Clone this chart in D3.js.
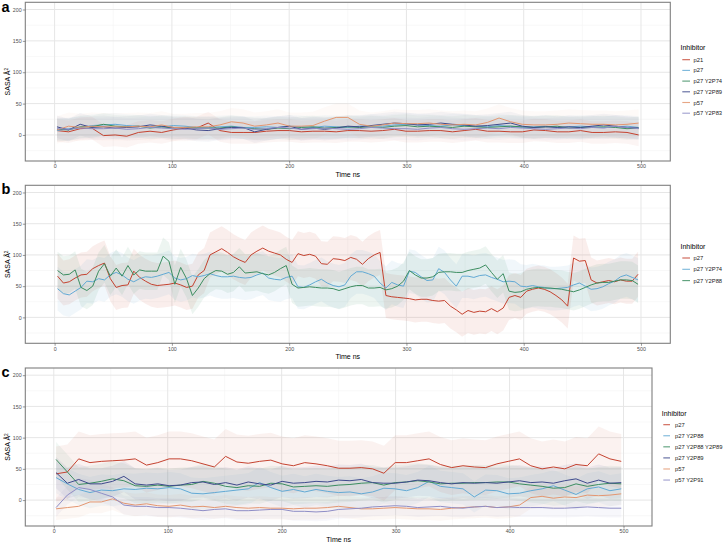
<!DOCTYPE html>
<html><head><meta charset="utf-8">
<script src="https://cdn.jsdelivr.net/npm/d3@7"></script>
<style>body{margin:0;background:#fff}svg{display:block}text{font-family:"Liberation Sans",Arial,Helvetica,sans-serif}</style>
</head><body><svg id="chart" width="726" height="545"></svg>
<script>
// ---------- data ----------
const timeB = d3.range(100).map(k => 2.5 + 5 * k);        // 5 ns sampling (panel b)
const timeAC = d3.range(51).map(k => 2 + k * 9.92);        // ~10 ns sampling (panels a, c)

const xTicks = [0, 100, 200, 300, 400, 500];
const xMinor = [50, 150, 250, 350, 450];
const yTicks = [0, 50, 100, 150, 200];
const yMinor = [-25, 25, 75, 125, 175];

// Panel a
const aNames = ["p21", "p27", "p27 Y2P74", "p27 Y2P89", "p57", "p57 Y2P83"];
const aP21 = [7,5,10,11,-1,0,-2,4,6,4, 8,11,11,19,7,4,4,4,6,7, 7,5,6,6,5,7,7,6,7,9, 6,6,7,7,5,7,9,6,6,5, 5,8,7,5,5,7,4,4,5,4, 0];
const aP27 = [7,10,12,15,16,17,15,14,13,13, 15,14,12,12,13,14,12,12,13,12, 14,13,12,14,13,12,14,15,14,16, 17,16,15,14,16,15,14,13,15,14, 12,13,14,12,13,14,13,12,13,14, 12];
const aP27Y2P74 = [9,8,13,13,17,14,13,14,11,13, 11,12,11,11,11,13,11,10,9,11, 10,12,13,11,12,13,12,13,12,14, 15,13,14,13,12,14,13,12,13,14, 13,12,13,14,11,12,12,13,12,10, 11];
const aP27Y2P89 = [13,8,17,12,13,11,12,13,16,14, 12,11,8,7,10,12,12,5,9,12, 14,9,11,9,11,14,13,15,17,19, 18,16,17,19,17,16,14,15,17,19, 14,12,13,12,13,12,14,16,14,12, 11];
const aP57 = [8,14,12,14,13,13,13,14,13,16, 12,12,13,13,16,21,19,14,16,19, 14,14,15,22,28,28,17,14,16,19, 18,18,19,17,16,17,16,20,27,21, 17,16,16,17,19,18,17,17,16,17, 19];
const aP57Y2P83 = [10,9,11,10,10,11,9,10,12,11, 10,9,10,11,9,10,11,9,10,12, 11,9,10,11,10,9,10,12,11,10, 10,9,11,12,10,9,10,11,10,12, 11,10,9,10,11,10,12,11,14,12, 10];
const aRawSpread = [18, 18, 18, 18, 22, 18];

// Panel b
const bNames = ["p27", "p27 Y2P74", "p27 Y2P88"];
const bP27 = [66,55,57,63,68,69,78,83,87,62, 48,51,52,74,64,58,53,51,52,53, 55,52,48,50,68,75,100,105,110,104, 97,92,88,100,106,111,106,103,100,93, 88,102,99,101,98,86,85,94,93,91, 96,93,85,94,100,104,35,33,32,31, 30,28,29,29,27,26,27,18,12,5, 11,8,10,9,14,9,15,32,35,32, 42,45,47,45,41,35,28,18,95,90, 91,60,55,57,59,57,60,58,58,69];
const bP27Y2P74 = [46,38,36,42,48,58,57,62,60,68, 72,68,61,57,62,65,64,66,69,72, 63,60,62,67,65,67,70,67,65,65, 66,64,63,64,68,71,63,61,60,64, 66,49,48,52,57,61,55,51,49,52, 66,73,73,70,66,55,47,56,52,50, 74,72,65,59,60,78,72,60,50,66, 66,64,67,68,64,61,57,58,57,50, 49,51,49,48,46,46,47,48,52,55, 50,45,46,49,54,58,65,68,64,60];
const bP27Y2P88 = [75,68,69,76,48,43,50,74,86,66, 79,66,83,68,76,74,74,74,98,90, 53,80,62,35,47,62,70,75,74,69, 72,81,71,72,73,70,68,72,78,83, 53,47,48,49,48,47,47,46,43,46, 49,51,51,47,47,48,44,46,50,58, 75,68,63,63,65,72,73,73,72,72, 75,77,79,84,72,61,70,42,40,41, 45,47,48,47,47,46,45,43,41,44, 48,52,55,56,56,58,60,60,59,53];
const bRawSpread = [36, 35, 30];

// Panel c
const cNames = ["p27", "p27 Y2P88", "p27 Y2P88 Y2P89", "p27 Y2P89", "p57", "p57 Y2P91"];
const cP27 = [42,45,66,60,62,63,64,66,56,60, 66,66,63,58,53,70,61,59,62,64, 58,55,60,58,55,51,51,52,50,43, 60,60,63,66,57,52,55,53,52,58, 62,66,55,50,53,50,57,55,74,66, 62];
const cP27Y2P88 = [36,26,17,12,16,15,18,17,19,18, 20,18,11,10,12,14,16,18,28,20, 14,17,13,17,14,12,13,10,13,19, 18,15,20,30,22,20,18,5,16,15, 10,11,15,18,23,16,9,18,21,15, 18];
const cP27Y2P88Y2P89 = [65,45,25,27,30,34,31,23,22,24, 22,24,25,30,27,22,20,23,22,27, 26,21,22,23,22,24,25,27,28,24, 28,29,31,29,26,27,27,28,28,29, 29,26,24,22,19,20,26,22,25,27, 26];
const cP27Y2P89 = [44,27,33,26,26,30,38,26,24,26, 23,24,28,29,25,28,24,29,26,24, 30,27,28,30,29,32,31,33,28,27, 27,29,32,31,28,26,28,27,28,27, 29,31,28,29,27,31,34,27,32,27, 28];
const cP57 = [-14,-12,-10,-3,-3,2,-5,-8,-6,-9, -10,-8,-11,-10,-12,-10,-12,-13,-12,-13, -13,-14,-13,-13,-12,-10,-12,-14,-14,-13, -12,-13,-14,-14,-15,-13,-12,-11,-10,-12, -11,-8,4,6,3,5,4,8,7,8, 10];
const cP57Y2P91 = [-12,8,20,17,11,5,-8,-10,-10,-12, -12,-13,-15,-17,-15,-14,-17,-17,-16,-15, -15,-18,-18,-19,-18,-15,-14,-13,-11,-10, -9,-10,-12,-11,-10,-12,-13,-11,-10,-12, -11,-12,-12,-12,-13,-13,-12,-11,-12,-13, -13];
const cRawSpread = [44, 25, 28, 25, 18, 15];

// ---------- style ----------
const palette = ["#C4422F", "#62A9D4", "#3C8D60", "#3F4A8C", "#E39670", "#8E8DC6"];
const xDomain = [-25, 525], yDomain = [-41.5, 211.5];
const svg = d3.select("#chart");

function drawPanel(p) {
  const g = svg.append("g");
  const x = d3.scaleLinear().domain(xDomain).range([p.x0, p.x1]);
  const y = d3.scaleLinear().domain(yDomain).range([p.y1, p.y0]);
  const clipId = "clip-" + p.letter;
  g.append("clipPath").attr("id", clipId).append("rect")
    .attr("x", p.x0).attr("y", p.y0).attr("width", p.x1 - p.x0).attr("height", p.y1 - p.y0);

  // grid
  g.selectAll(null).data(yMinor).join("line")
    .attr("x1", p.x0).attr("x2", p.x1).attr("y1", d => y(d)).attr("y2", d => y(d))
    .attr("stroke", "#f3f3f3").attr("stroke-width", 0.6);
  g.selectAll(null).data(xMinor).join("line")
    .attr("y1", p.y0).attr("y2", p.y1).attr("x1", d => x(d)).attr("x2", d => x(d))
    .attr("stroke", "#f3f3f3").attr("stroke-width", 0.6);
  g.selectAll(null).data(yTicks).join("line")
    .attr("x1", p.x0).attr("x2", p.x1).attr("y1", d => y(d)).attr("y2", d => y(d))
    .attr("stroke", "#e6e6e6").attr("stroke-width", 1);
  g.selectAll(null).data(xTicks).join("line")
    .attr("y1", p.y0).attr("y2", p.y1).attr("x1", d => x(d)).attr("x2", d => x(d))
    .attr("stroke", "#e6e6e6").attr("stroke-width", 1);

  const plot = g.append("g").attr("clip-path", `url(#${clipId})`);
  // raw spread ribbons
  p.series.forEach((s, i) => {
    const pts = p.times.map((t, k) => [t, s.values[k]]);
    plot.append("path").datum(pts)
      .attr("d", d3.area().x(d => x(d[0])).y0(d => y(d[1] - s.spread)).y1(d => y(d[1] + s.spread)))
      .attr("fill", palette[i]).attr("fill-opacity", p.rawOpacity);
  });
  // smoothed lines
  p.series.forEach((s, i) => {
    const pts = p.times.map((t, k) => [t, s.values[k]]);
    plot.append("path").datum(pts)
      .attr("d", d3.line().x(d => x(d[0])).y(d => y(d[1])))
      .attr("fill", "none").attr("stroke", palette[i]).attr("stroke-width", 1)
      .attr("stroke-linejoin", "round");
  });

  // border
  g.append("rect").attr("x", p.x0).attr("y", p.y0).attr("width", p.x1 - p.x0).attr("height", p.y1 - p.y0)
    .attr("fill", "none").attr("stroke", "#7f7f7f").attr("stroke-width", 1.1);

  // axes
  const ax = g.append("g").attr("transform", `translate(0,${p.y1})`)
    .call(d3.axisBottom(x).tickValues(xTicks).tickSize(2.5).tickPadding(1.2));
  const ay = g.append("g").attr("transform", `translate(${p.x0},0)`)
    .call(d3.axisLeft(y).tickValues(yTicks).tickSize(2.5).tickPadding(1.2));
  [ax, ay].forEach(a => {
    a.select(".domain").remove();
    a.selectAll(".tick line").attr("stroke", "#555").attr("stroke-width", 0.6);
    a.selectAll(".tick text").attr("fill", "#4d4d4d").attr("font-size", 5.3)
      .attr("font-family", "Liberation Sans, Arial, sans-serif");
  });

  // axis titles
  g.append("text").attr("x", (p.x0 + p.x1) / 2).attr("y", p.y1 + 16)
    .attr("text-anchor", "middle").attr("font-size", 7).attr("fill", "#000").text("Time ns");
  const yt = g.append("text").attr("transform", `translate(10,${(p.y0 + p.y1) / 2}) rotate(-90)`)
    .attr("text-anchor", "middle").attr("font-size", 7).attr("fill", "#000");
  yt.append("tspan").text("SASA Å");
  yt.append("tspan").attr("dy", -2.5).attr("font-size", 4.8).text("2");

  // panel letter
  g.append("text").attr("x", 1.5).attr("y", p.letterY).attr("font-size", 14.5)
    .attr("font-weight", "bold").attr("fill", "#000").text(p.letter);

  // legend
  const L = p.legend;
  g.append("text").attr("x", L.titleX).attr("y", L.titleY).attr("dominant-baseline", "central")
    .attr("font-size", 7).attr("fill", "#000").text("Inhibitor");
  p.series.forEach((s, i) => {
    const yy = L.itemY0 + i * L.step;
    g.append("line").attr("x1", L.keyX0).attr("x2", L.keyX1).attr("y1", yy).attr("y2", yy)
      .attr("stroke", palette[i]).attr("stroke-width", 1.1).attr("stroke-opacity", 0.85);
    g.append("text").attr("x", L.textX).attr("y", yy).attr("dominant-baseline", "central")
      .attr("font-size", 5.8).attr("fill", "#222").text(s.name);
  });
}

function buildSeries(names, arrays, spreads) {
  return names.map((n, i) => ({ name: n, values: arrays[i], spread: spreads[i] }));
}

drawPanel({
  letter: "a", letterY: 12, x0: 25.3, x1: 670.3, y0: 2.3, y1: 161, times: timeAC, rawOpacity: 0.05,
  series: buildSeries(aNames, [aP21, aP27, aP27Y2P74, aP27Y2P89, aP57, aP57Y2P83], aRawSpread),
  legend: { titleX: 680.5, titleY: 47.5, keyX0: 682.3, keyX1: 690, textX: 693.5, itemY0: 59.7, step: 10.7 }
});
drawPanel({
  letter: "b", letterY: 193.5, x0: 25.3, x1: 670.3, y0: 185.3, y1: 343.3, times: timeB, rawOpacity: 0.09,
  series: buildSeries(bNames, [bP27, bP27Y2P74, bP27Y2P88], bRawSpread),
  legend: { titleX: 680.5, titleY: 246.6, keyX0: 682.3, keyX1: 690, textX: 693.5, itemY0: 258, step: 11.3 }
});
drawPanel({
  letter: "c", letterY: 376.5, x0: 25.3, x1: 652, y0: 368, y1: 526, times: timeAC, rawOpacity: 0.07,
  series: buildSeries(cNames, [cP27, cP27Y2P88, cP27Y2P88Y2P89, cP27Y2P89, cP57, cP57Y2P91], cRawSpread),
  legend: { titleX: 661.7, titleY: 413.3, keyX0: 663.3, keyX1: 670, textX: 675, itemY0: 424.7, step: 11.07 }
});
</script></body></html>
